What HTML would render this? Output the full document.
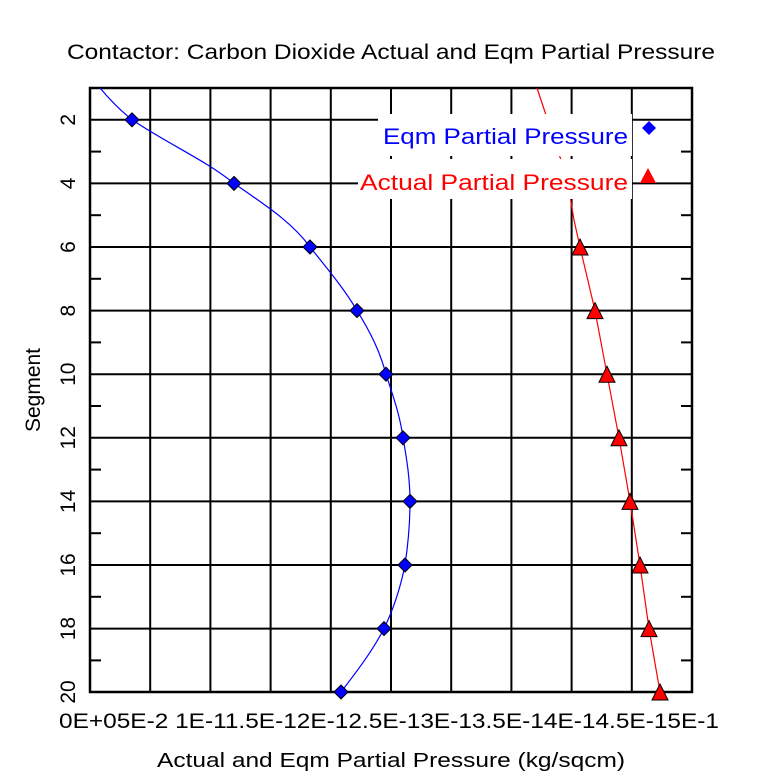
<!DOCTYPE html>
<html><head><meta charset="utf-8"><style>html,body{margin:0;padding:0;background:#fff}svg{display:block}</style></head>
<body>
<svg width="781" height="781" viewBox="0 0 781 781" xmlns="http://www.w3.org/2000/svg" font-family="Liberation Sans, DejaVu Sans, sans-serif">
<rect width="781" height="781" fill="#fff"/>
<text x="391" y="59" font-size="21" text-anchor="middle" textLength="648" lengthAdjust="spacingAndGlyphs">Contactor: Carbon Dioxide Actual and Eqm Partial Pressure</text>
<g stroke="#000" stroke-width="2">
<line x1="150.2" y1="88" x2="150.2" y2="692"/><line x1="210.4" y1="88" x2="210.4" y2="692"/><line x1="270.6" y1="88" x2="270.6" y2="692"/><line x1="330.8" y1="88" x2="330.8" y2="692"/><line x1="391" y1="88" x2="391" y2="692"/><line x1="451.2" y1="88" x2="451.2" y2="692"/><line x1="511.4" y1="88" x2="511.4" y2="692"/><line x1="571.6" y1="88" x2="571.6" y2="692"/><line x1="631.8" y1="88" x2="631.8" y2="692"/>
<line x1="90" y1="119.8" x2="692" y2="119.8"/><line x1="90" y1="183.4" x2="692" y2="183.4"/><line x1="90" y1="247" x2="692" y2="247"/><line x1="90" y1="310.6" x2="692" y2="310.6"/><line x1="90" y1="374.2" x2="692" y2="374.2"/><line x1="90" y1="437.8" x2="692" y2="437.8"/><line x1="90" y1="501.4" x2="692" y2="501.4"/><line x1="90" y1="565" x2="692" y2="565"/><line x1="90" y1="628.6" x2="692" y2="628.6"/>
<g>
<line x1="90" y1="151.6" x2="101" y2="151.6"/><line x1="90" y1="215.2" x2="101" y2="215.2"/><line x1="90" y1="278.8" x2="101" y2="278.8"/><line x1="90" y1="342.4" x2="101" y2="342.4"/><line x1="90" y1="406" x2="101" y2="406"/><line x1="90" y1="469.6" x2="101" y2="469.6"/><line x1="90" y1="533.2" x2="101" y2="533.2"/><line x1="90" y1="596.8" x2="101" y2="596.8"/><line x1="90" y1="660.4" x2="101" y2="660.4"/>
<line x1="681" y1="151.6" x2="692" y2="151.6"/><line x1="681" y1="215.2" x2="692" y2="215.2"/><line x1="681" y1="278.8" x2="692" y2="278.8"/><line x1="681" y1="342.4" x2="692" y2="342.4"/><line x1="681" y1="406" x2="692" y2="406"/><line x1="681" y1="469.6" x2="692" y2="469.6"/><line x1="681" y1="533.2" x2="692" y2="533.2"/><line x1="681" y1="596.8" x2="692" y2="596.8"/><line x1="681" y1="660.4" x2="692" y2="660.4"/>
</g>
</g>
<rect x="90" y="88" width="602" height="604" fill="none" stroke="#000" stroke-width="2.5"/>
<polyline fill="none" stroke="#f00" stroke-width="1.2" points="537,88 545,112 553,136 561,160 569,190 574,220 580,247 595,310.6 607,374.2 619,437.8 630,501.4 640,565 649,628.6 660,692"/>
<path fill="none" stroke="#00f" stroke-width="1.2" d="M100,88 Q115,106 132,119.8 C170,145 205,160 234,183.4 C265,205 292,222 310,247 C330,272 345,290 357,310.6 C372,335 380,352 386,374.2 C393,396 400,415 403,437.8 C407,460 410,480 410,501.4 C410,525 408,545 405,565 C400,590 393,610 384,628.6 C373,650 358,670 341,692"/>
<rect x="378" y="114" width="254" height="42" fill="#fff"/>
<rect x="358" y="159" width="274" height="40" fill="#fff"/>
<text x="628" y="144" font-size="22" fill="#00f" text-anchor="end" textLength="245" lengthAdjust="spacingAndGlyphs">Eqm Partial Pressure</text>
<text x="628" y="190" font-size="22" fill="#f00" text-anchor="end" textLength="268" lengthAdjust="spacingAndGlyphs">Actual Partial Pressure</text>
<polygon points="649,121 656,128 649,135 642,128" fill="#00f"/>
<polygon points="648,168 656,183 640,183" fill="#f00"/>
<g fill="#00f" stroke="#000" stroke-width="1">
<polygon points="132,112.8 139,119.8 132,126.8 125,119.8"/>
<polygon points="234,176.4 241,183.4 234,190.4 227,183.4"/>
<polygon points="310,240 317,247 310,254 303,247"/>
<polygon points="357,303.6 364,310.6 357,317.6 350,310.6"/>
<polygon points="386,367.2 393,374.2 386,381.2 379,374.2"/>
<polygon points="403,430.8 410,437.8 403,444.8 396,437.8"/>
<polygon points="410,494.4 417,501.4 410,508.4 403,501.4"/>
<polygon points="405,558 412,565 405,572 398,565"/>
<polygon points="384,621.6 391,628.6 384,635.6 377,628.6"/>
<polygon points="341,685 348,692 341,699 334,692"/>
</g>
<g fill="#f00" stroke="#000" stroke-width="1">
<polygon points="580,239 588,255 572,255"/>
<polygon points="595,302.6 603,318.6 587,318.6"/>
<polygon points="607,366.2 615,382.2 599,382.2"/>
<polygon points="619,429.8 627,445.8 611,445.8"/>
<polygon points="630,493.4 638,509.4 622,509.4"/>
<polygon points="640,557 648,573 632,573"/>
<polygon points="649,620.6 657,636.6 641,636.6"/>
<polygon points="660,684 668,700 652,700"/>
</g>
<g font-size="21" text-anchor="middle">
<text transform="translate(75,119.8) rotate(-90)">2</text>
<text transform="translate(75,183.4) rotate(-90)">4</text>
<text transform="translate(75,247) rotate(-90)">6</text>
<text transform="translate(75,310.6) rotate(-90)">8</text>
<text transform="translate(75,374.2) rotate(-90)">10</text>
<text transform="translate(75,437.8) rotate(-90)">12</text>
<text transform="translate(75,501.4) rotate(-90)">14</text>
<text transform="translate(75,565) rotate(-90)">16</text>
<text transform="translate(75,628.6) rotate(-90)">18</text>
<text transform="translate(75,692) rotate(-90)">20</text>
</g>
<text transform="translate(40,390) rotate(-90)" font-size="21" text-anchor="middle">Segment</text>
<text x="59" y="728" font-size="21" textLength="660" lengthAdjust="spacingAndGlyphs">0E+05E-2 1E-11.5E-12E-12.5E-13E-13.5E-14E-14.5E-15E-1</text>
<text x="391" y="767" font-size="20" text-anchor="middle" textLength="468" lengthAdjust="spacingAndGlyphs">Actual and Eqm Partial Pressure (kg/sqcm)</text>
</svg>
</body></html>
